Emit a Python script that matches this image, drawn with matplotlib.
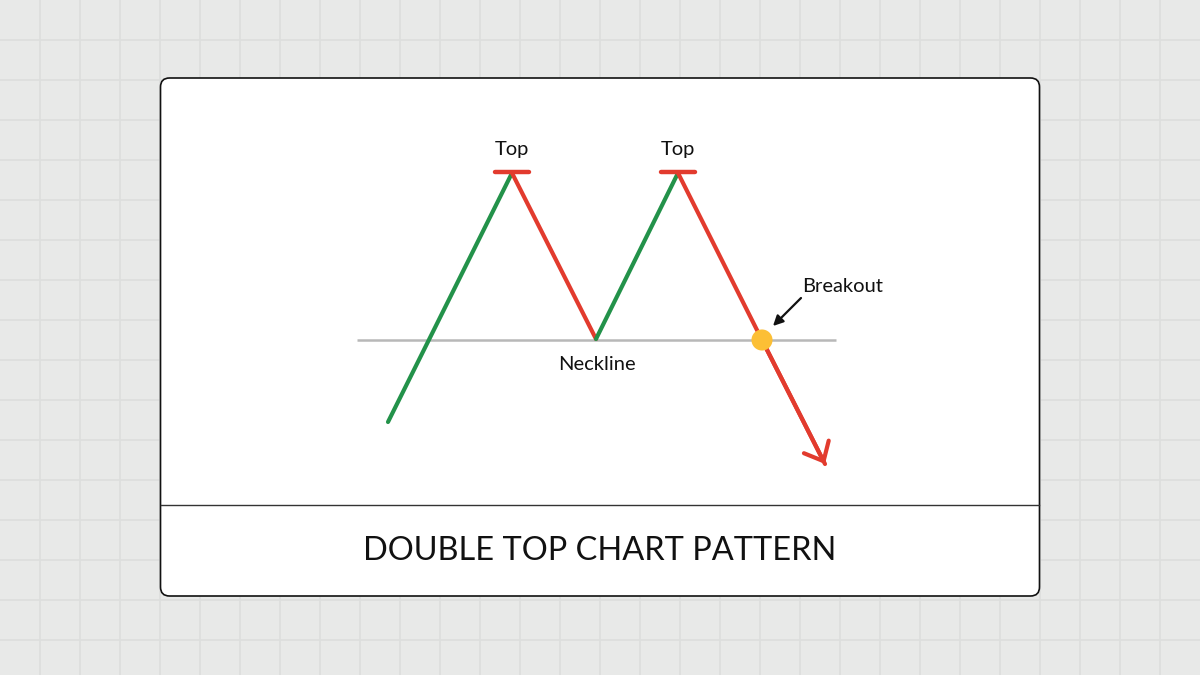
import matplotlib
matplotlib.use("Agg")
import matplotlib.pyplot as plt
from matplotlib.patches import FancyBboxPatch, FancyArrowPatch
import numpy as np

# ---- data (chart units; x = time, y = price on inverted screen scale) ----
pattern_x = [388, 512, 596, 678, 762, 825]
pattern_y = [422, 173, 339, 173, 340, 464]
segment_colors = ["#23924a", "#e23b2e", "#23924a", "#e23b2e", "#e23b2e"]
neckline_x = [357, 836]
neckline_y = 340
top_labels = ["Top", "Top"]
top_idx = [1, 3]
breakout_idx = 4
neckline_label = "Neckline"
breakout_label = "Breakout"
title = "DOUBLE TOP CHART PATTERN"

FONT = ["Lato", "DejaVu Sans"]

fig = plt.figure(figsize=(12, 6.75), dpi=100)
fig.patch.set_facecolor("#e8e9e8")
ax = fig.add_axes([0, 0, 1, 1])
ax.set_xlim(0, 1200)
ax.set_ylim(675, 0)
ax.axis("off")
ax.set_facecolor("#e8e9e8")

# background grid
for gx in np.arange(40, 1200, 40):
    ax.axvline(gx, color="#dcdedd", lw=1.2, zorder=0)
for gy in np.arange(40, 675, 40):
    ax.axhline(gy, color="#dcdedd", lw=1.2, zorder=0)

# card
card = FancyBboxPatch((160.5, 78), 879, 518, boxstyle="round,pad=0,rounding_size=9",
                      facecolor="white", edgecolor="#111111", lw=1.2, zorder=1)
ax.add_patch(card)
ax.plot([161, 1039], [505, 505], color="#333333", lw=1.0, zorder=2)

# neckline
ax.plot(neckline_x, [neckline_y, neckline_y], color="#b8b8b8", lw=1.8, zorder=3,
        solid_capstyle="butt")

# pattern segments
for i in range(len(pattern_x) - 1):
    x0, y0, x1, y1 = pattern_x[i], pattern_y[i], pattern_x[i + 1], pattern_y[i + 1]
    ax.plot([x0, x1], [y0, y1], color=segment_colors[i], lw=3.0, zorder=4,
            solid_capstyle="round", solid_joinstyle="round")

# arrow head (open chevron) at end
tip = (pattern_x[-1], pattern_y[-1])
prev = (pattern_x[-2], pattern_y[-2])
arr = FancyArrowPatch(prev, tip, arrowstyle="->,head_length=1.15,head_width=1.0",
                      color=segment_colors[-1], lw=3.0, mutation_scale=10,
                      shrinkA=0, shrinkB=0, zorder=4, capstyle="round", joinstyle="round")
ax.add_patch(arr)

# top bars and labels
for lbl, i in zip(top_labels, top_idx):
    tx, ty = pattern_x[i], pattern_y[i]
    ax.plot([tx - 17, tx + 17], [ty - 1, ty - 1], color="#e23b2e", lw=3.2,
            solid_capstyle="round", zorder=5)
    ax.text(tx, ty - 24, lbl, ha="center", va="center", fontsize=14.5,
            family=FONT, color="#111111", zorder=6)

# neckline label
ax.text(pattern_x[2] + 1, neckline_y + 25, neckline_label, ha="center", va="center",
        fontsize=14.5, family=FONT, color="#111111", zorder=6)

# breakout point
bx, by = pattern_x[breakout_idx], neckline_y
ax.scatter([bx], [by], s=230, color="#fcbf35", zorder=7, edgecolors="none")
ax.text(bx + 40, by - 53, breakout_label, ha="left", va="center", fontsize=14.5,
        family=FONT, color="#111111", zorder=6)
ax.annotate("", xy=(bx + 11, by - 14), xytext=(bx + 39, by - 42),
            arrowprops=dict(arrowstyle="-|>,head_length=0.6,head_width=0.3",
                            color="#111111", lw=1.6, shrinkA=0, shrinkB=0), zorder=6)

# title
ax.text(600, 551, title, ha="center", va="center", fontsize=23.4, family=FONT,
        color="#111111", zorder=6)

fig.savefig("out.png", dpi=100, facecolor=fig.get_facecolor())
